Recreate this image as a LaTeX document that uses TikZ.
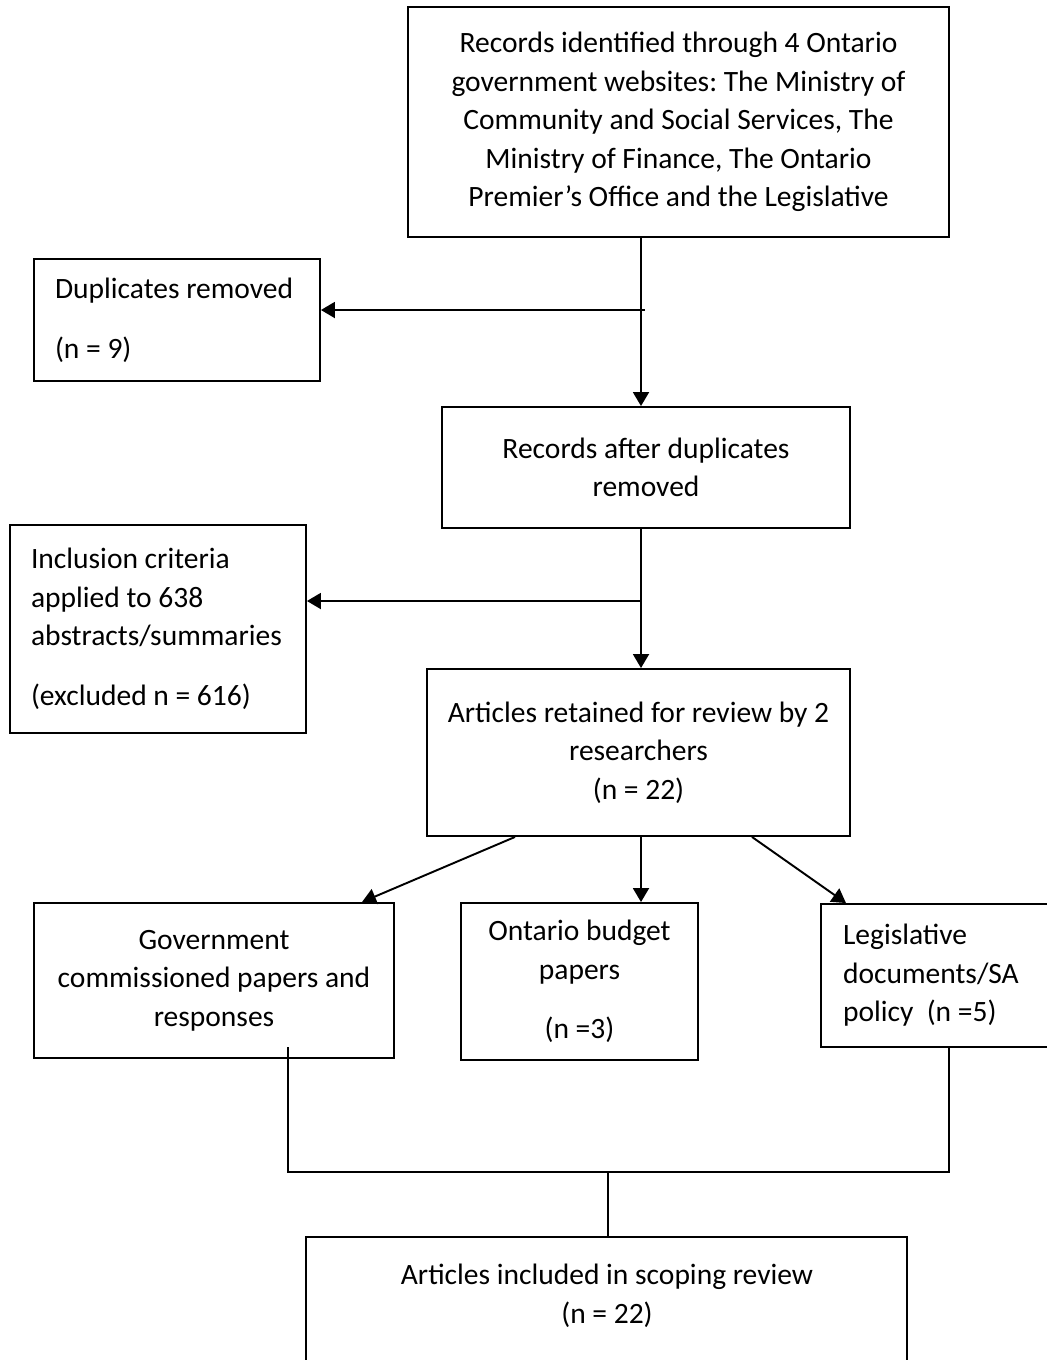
\documentclass[tikz,border=0pt]{standalone}
\usepackage{fontspec}
\setmainfont{Carlito}
\usetikzlibrary{arrows.meta}
\frenchspacing

\begin{document}
\begin{tikzpicture}[x=0.02cm,y=-0.02cm,
    record/.style ={rectangle, draw, line width=1.1pt, inner sep=0pt,
      font=\fontsize{16.8}{21.9}\selectfont},
    flow/.style ={line width=1.1pt, -{Triangle[length=0.28cm,width=0.32cm]}},
    merge/.style ={line width=1.1pt}]
   \useasboundingbox (0,0) rectangle (1047,1360);

   \node[record,minimum width=10.82cm,minimum height=4.6cm,align=center] (found) at (678.5,122)
     {Records identified through 4 Ontario\\government websites: The Ministry of\\Community and Social Services, The\\Ministry of Finance, The Ontario\\Premier’s Office and the Legislative};
   \node[record,minimum width=5.72cm,minimum height=2.44cm,text width=4.88cm,align=flush left] (dup) at (177,320)
     {Duplicates removed\\[0.43cm](n = 9)};
   \node[record,minimum width=8.16cm,minimum height=2.42cm,align=center] (after) at (646,467.5)
     {Records after duplicates\\removed};
   \node[record,minimum width=5.92cm,minimum height=4.16cm,text width=5.08cm,align=flush left] (incl) at (158,629)
     {Inclusion criteria\\applied to 638\\abstracts/summaries\\[0.43cm](excluded n = 616)};
   \node[record,minimum width=8.46cm,minimum height=3.34cm,align=center] (kept) at (638.5,752.5)
     {Articles retained for review by 2\\researchers\\(n = 22)};
   \node[record,minimum width=7.2cm,minimum height=3.1cm,align=center] (gov) at (214,980.5)
     {Government\\commissioned papers and\\responses};
   \node[record,minimum width=4.74cm,minimum height=3.14cm,align=center] (budget) at (579.5,981.5)
     {Ontario budget\\papers\\[0.42cm](n =3)};
   \node[record,minimum width=4.92cm,minimum height=2.86cm,text width=4.04cm,align=flush left] (leg) at (944,975.5)
     {Legislative\\documents/SA\\policy\ \ (n =5)};
   \node[record,minimum width=12.02cm,minimum height=2.76cm] (final) at (606.5,1306) {};
   \node[font=\fontsize{16.8}{21.9}\selectfont,align=center] (finaltext) at (607,1296)
     {Articles included in scoping review\\(n = 22)};

   \coordinate (v1) at (641,310);
   \coordinate (t1) at (645,310);
   \coordinate (v2) at (641,601);
   \coordinate (b1) at (515,836);
   \coordinate (e1) at (362,903);
   \coordinate (b3) at (752,836);
   \coordinate (e3) at (846,903);
   \coordinate (j0) at (288,1047);
   \coordinate (j2) at (949,1172);
   \coordinate (j3) at (608,1172);

   \draw[flow] (found.south -| v1) -- (after.north -| v1);
   \draw[flow] (t1) -- (dup.east |- t1);
   \draw[flow] (after.south -| v2) -- (kept.north -| v2);
   \draw[flow] (v2) -- (incl.east |- v2);
   \draw[flow] (kept.south -| b1) -- (gov.north -| e1);
   \draw[flow] (kept.south -| v2) -- (budget.north -| v2);
   \draw[flow] (kept.south -| b3) -- (leg.north -| e3);
   \draw[merge] (j0) |- (j2) -- (leg.south -| j2);
   \draw[merge] (j3) -- (final.north -| j3);
 \end{tikzpicture}
\end{document}
